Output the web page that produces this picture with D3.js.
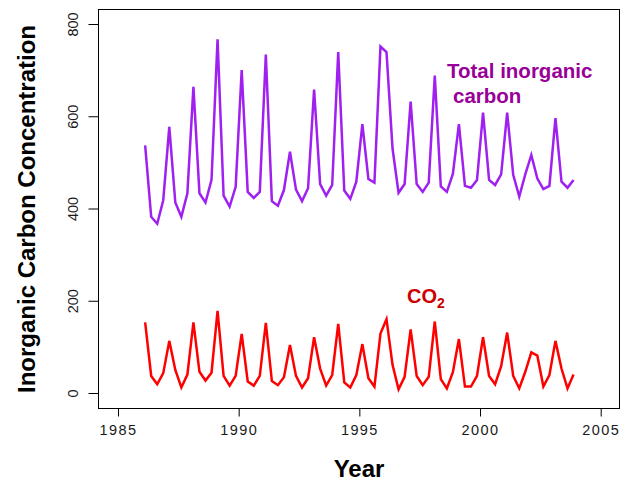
<!DOCTYPE html>
<html>
<head>
<meta charset="utf-8">
<script src="https://cdn.jsdelivr.net/npm/d3@7"></script>
<style>
  body { margin: 0; background: #fff; }
  svg { font-family: "Liberation Sans", Arial, sans-serif; }
</style>
</head>
<body>
<div id="chart"></div>
<script>
// Sampling years and months (one sample per quarter)
const years = d3.range(1986, 2004);
const sampleMonths = [2, 5, 8, 11];

// Total inorganic carbon, 4 samples per year, 1986-2003
const totalCarbon = [
  537, 382, 367, 418,
  577, 413, 382, 433,
  664, 433, 413, 462,
  767, 428, 404, 447,
  700, 436, 423, 436,
  734, 416, 406, 440,
  523, 441, 416, 444,
  658, 453, 428, 451,
  739, 439, 421, 458,
  583, 464, 456, 751,
  739, 530, 434, 453,
  632, 453, 436, 456,
  688, 448, 436, 475,
  583, 449, 445, 462,
  608, 462, 451, 474,
  608, 473, 426, 474,
  516, 465, 442, 449,
  596, 458, 445, 462,
];

// CO2 concentration, same samples
const co2 = [
  153, 37, 19, 43,
  113, 50, 12, 40,
  153, 46, 27, 44,
  178, 37, 16, 37,
  128, 25, 16, 37,
  152, 26, 17, 34,
  104, 37, 12, 32,
  121, 53, 16, 39,
  150, 23, 12, 39,
  106, 32, 14, 129,
  160, 61, 8, 35,
  138, 37, 17, 35,
  155, 30, 10, 45,
  117, 14, 14, 37,
  121, 37, 19, 58,
  131, 37, 10, 46,
  88, 81, 14, 39,
  113, 53, 10, 40,
];

const xTicks = [1985, 1990, 1995, 2000, 2005];
const yTicks = [0, 200, 400, 600, 800];

const WIDTH = 629;
const HEIGHT = 484;

/**
 * Build the chart
 */
function renderChart(container) {
  const svg = d3.select(container).append("svg")
    .attr("width", WIDTH)
    .attr("height", HEIGHT);

  // plot box
  const box = { left: 98.5, right: 619.5, top: 9.5, bottom: 408.5 };

  const x = d3.scaleLinear().domain([1985, 2005]).range([118, 600.7]);
  const y = d3.scaleLinear().domain([0, 800]).range([393, 24]);

  // decimal date for every sample
  const dates = years.flatMap((yr) => sampleMonths.map((m) => yr + (m - 0.5) / 12));

  drawAxes(svg, x, y, box);
  drawSeries(svg, x, y, dates, totalCarbon, "#a020f0");
  drawSeries(svg, x, y, dates, co2, "#ff0000");
  drawLabels(svg, box);
}

/**
 * Box, ticks, tick labels
 */
function drawAxes(svg, x, y, box) {
  svg.append("rect")
    .attr("x", box.left)
    .attr("y", box.top)
    .attr("width", box.right - box.left)
    .attr("height", box.bottom - box.top)
    .attr("fill", "none")
    .attr("stroke", "#000")
    .attr("stroke-width", 1);

  const xAxis = svg.append("g")
    .attr("transform", `translate(0,${box.bottom})`)
    .call(d3.axisBottom(x).tickValues(xTicks).tickSize(8).tickFormat(d3.format("d")));
  xAxis.select(".domain").remove();
  xAxis.selectAll("text")
    .attr("y", 26)
    .attr("dy", 0)
    .attr("fill", "#1a1a1a")
    .style("font-size", "14.5px")
    .style("letter-spacing", "1.4px");

  const yAxis = svg.append("g")
    .attr("transform", `translate(${box.left},0)`)
    .call(d3.axisLeft(y).tickValues(yTicks).tickSize(10));
  yAxis.select(".domain").remove();
  // R style: labels parallel to the axis
  yAxis.selectAll(".tick text")
    .attr("x", null)
    .attr("dy", null)
    .attr("text-anchor", "middle")
    .attr("transform", "translate(-21,0) rotate(-90)")
    .attr("fill", "#1a1a1a")
    .style("font-size", "14.5px");
}

/**
 * One polyline for a series
 */
function drawSeries(svg, x, y, dates, values, color) {
  const line = d3.line()
    .x((d, i) => x(dates[i]))
    .y((d) => y(d));

  svg.append("path")
    .datum(values)
    .attr("d", line)
    .attr("fill", "none")
    .attr("stroke", color)
    .attr("stroke-width", 2.5)
    .attr("stroke-linejoin", "miter");
}

/**
 * Axis titles and series annotations
 */
function drawLabels(svg, box) {
  const cx = (box.left + box.right) / 2;
  const cy = (box.top + box.bottom) / 2;

  svg.append("text")
    .attr("x", cx)
    .attr("y", 477)
    .attr("text-anchor", "middle")
    .style("font-size", "24px")
    .style("font-weight", "bold")
    .text("Year");

  svg.append("text")
    .attr("transform", `translate(35,${cy}) rotate(-90)`)
    .attr("text-anchor", "middle")
    .style("font-size", "24px")
    .style("font-weight", "bold")
    .text("Inorganic Carbon Concentration");

  const tic = svg.append("text")
    .attr("fill", "#990099")
    .style("font-size", "20.5px")
    .style("font-weight", "bold");
  tic.append("tspan").attr("x", 447).attr("y", 78).text("Total inorganic");
  tic.append("tspan").attr("x", 453).attr("y", 103).text("carbon");

  const lab = svg.append("text")
    .attr("x", 407)
    .attr("y", 303)
    .attr("fill", "#cd0000")
    .style("font-size", "20px")
    .style("font-weight", "bold");
  lab.append("tspan").text("CO");
  lab.append("tspan")
    .attr("dy", 5)
    .style("font-size", "14px")
    .text("2");
}

renderChart(document.getElementById("chart"));
</script>
</body>
</html>
